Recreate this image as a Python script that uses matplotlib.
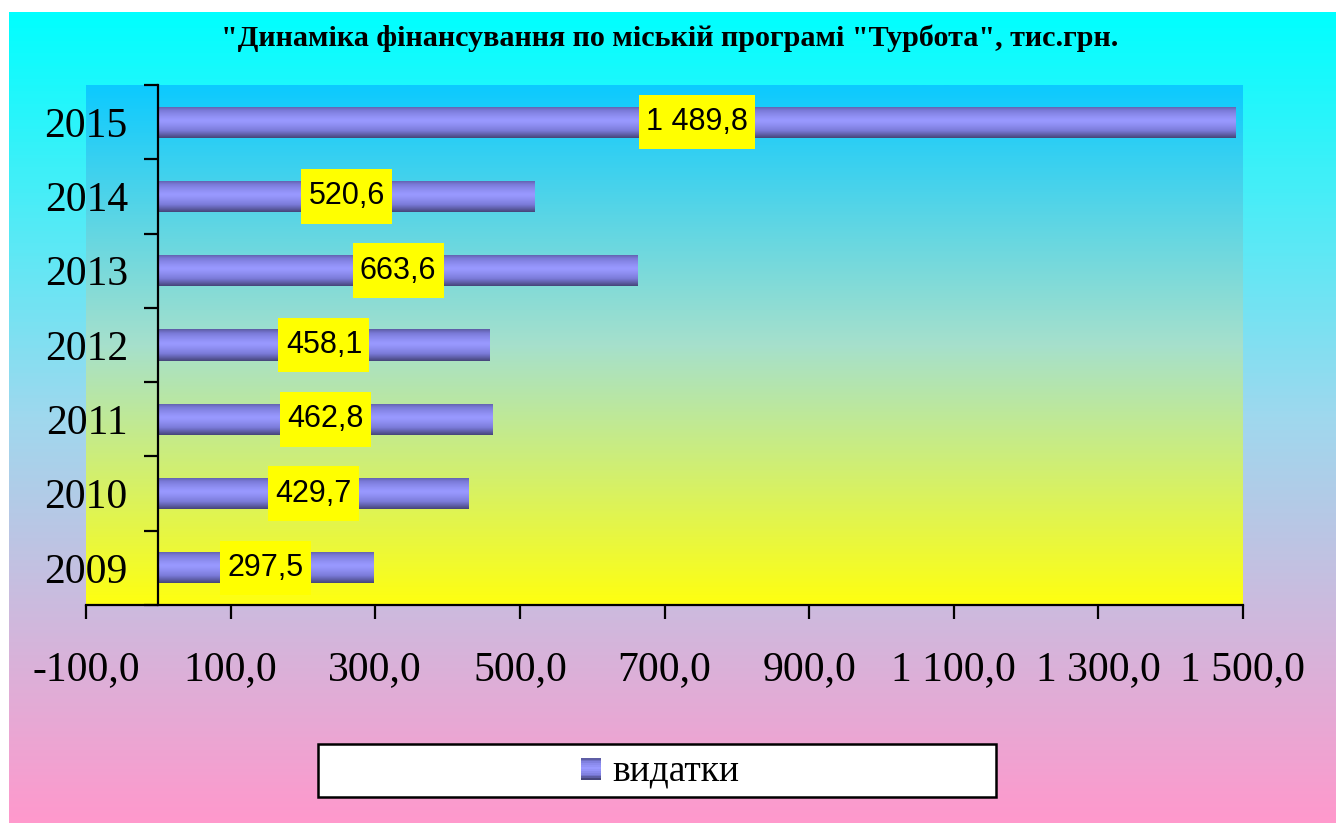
import matplotlib
matplotlib.use("Agg")
import matplotlib.pyplot as plt
import numpy as np
from matplotlib.patches import Rectangle
from matplotlib.path import Path
from matplotlib.ticker import FixedLocator, FuncFormatter
from matplotlib.colors import LinearSegmentedColormap

# data
years = ["2009", "2010", "2011", "2012", "2013", "2014", "2015"]
spending = [297.5, 429.7, 462.8, 458.1, 663.6, 520.6, 1489.8]
x_ticks = [-100, 100, 300, 500, 700, 900, 1100, 1300, 1500]
title = "\"Динаміка фінансування по міській програмі \"Турбота\", тис.грн."
legend_label = "видатки"

serif = "Liberation Serif"
sans = "Liberation Sans"


def ua_num(v):
    # 1 489,8 style: space for thousands, comma for decimals
    return f"{v:,.1f}".replace(",", " ").replace(".", ",")


def label_box(x0, y0, width, height, mutation_size):
    # yellow label box, a bit taller than a plain square pad
    px, py = 0.24 * mutation_size, 0.40 * mutation_size
    x0, y0 = x0 - px, y0 - py
    x1, y1 = x0 + width + 2 * px, y0 + height + 2 * py
    return Path([(x0, y0), (x1, y0), (x1, y1), (x0, y1), (x0, y0)], closed=True)


fig = plt.figure(figsize=(13.36, 8.23), dpi=100)
W, H = 1336, 823

# outer gradient, cyan -> pink (white strip on top and left)
bg = fig.add_axes([9 / W, 0, 1 - 9 / W, 1 - 12 / H], zorder=-10)
bg_cmap = LinearSegmentedColormap.from_list("bg", ["#00ffff", "#9fd8ee", "#ff99cc"])
bg.imshow(np.linspace(0, 1, 256).reshape(-1, 1), cmap=bg_cmap, aspect="auto",
          extent=[0, 1, 0, 1], origin="upper")
bg.set_axis_off()

ax = fig.add_axes([86 / W, 1 - 605 / H, (1243 - 86) / W, (605 - 85) / H])
ax.patch.set_visible(False)

# plot area gradient, sky blue -> yellow
pa_cmap = LinearSegmentedColormap.from_list("pa", ["#0ccaff", "#a6e0cc", "#ffff10"])
ax.imshow(np.linspace(0, 1, 256).reshape(-1, 1), cmap=pa_cmap, aspect="auto",
          extent=[0, 1, 0, 1], origin="upper", transform=ax.transAxes, zorder=0)

ypos = np.arange(len(years))
bars = ax.barh(ypos, spending, height=0.42, facecolor="none", edgecolor="none", zorder=2)

# cylinder-like shading of each bar
bar_cmap = LinearSegmentedColormap.from_list("bar", ["#46467a", "#7a7ad8", "#9999ff"])
t = np.linspace(0, 1, 64)
shade = 1 - np.clip(np.abs(t - 0.45) / 0.55, 0, 1) ** 1.3
for b in bars:
    x0, y0 = b.get_x(), b.get_y()
    im = ax.imshow(shade.reshape(-1, 1), cmap=bar_cmap, aspect="auto", vmin=0, vmax=1,
                   extent=[x0, x0 + b.get_width(), y0, y0 + b.get_height()],
                   origin="upper", zorder=2)
    im.set_clip_path(b)

for i, v in enumerate(spending):
    ax.text(v / 2, ypos[i], ua_num(v), ha="center", va="center", fontsize=22,
            family=sans, zorder=4,
            bbox=dict(boxstyle=label_box, facecolor="#ffff00", edgecolor="none"))

ax.set_xlim(-100, 1500)
ax.set_ylim(-0.5, len(years) - 0.5)

for s in ["top", "right"]:
    ax.spines[s].set_visible(False)
ax.spines["left"].set_position(("data", 0))
ax.spines["left"].set_linewidth(1.6)
ax.spines["bottom"].set_linewidth(1.6)
ax.spines["left"].set_zorder(5)
ax.spines["bottom"].set_zorder(5)

ax.xaxis.set_major_locator(FixedLocator(x_ticks))
ax.xaxis.set_major_formatter(FuncFormatter(lambda v, p: ua_num(v)))
ax.tick_params(axis="x", direction="out", length=10, width=1.6, pad=23,
               labelsize=30, labelfontfamily=serif)

ax.set_yticks(ypos)
ax.set_yticklabels(years)
ax.yaxis.set_minor_locator(FixedLocator(np.arange(-0.5, len(years), 1.0)))
ax.tick_params(axis="y", which="major", length=0, pad=22, labelsize=30, labelfontfamily=serif)
ax.tick_params(axis="y", which="minor", direction="out", length=10, width=1.6)

fig.text(670 / W, 1 - 38 / H, title, ha="center", va="center", fontsize=21.7,
         fontweight="bold", family=serif)

# legend: white framed box at the bottom
fig.patches.append(Rectangle((318 / W, 1 - 797 / H), (996 - 318) / W, (797 - 744) / H,
                             transform=fig.transFigure, facecolor="white",
                             edgecolor="black", linewidth=1.8, zorder=1))


class GradientHandler:
    def legend_artist(self, legend, orig_handle, fontsize, handlebox):
        w, h = handlebox.width, handlebox.height
        n = 12
        for k in range(n):
            c = bar_cmap(shade[int(k / (n - 1) * 63)])
            r = Rectangle((0, h * (n - 1 - k) / n), w, h / n,
                          facecolor=c, edgecolor="none", transform=handlebox.get_transform())
            handlebox.add_artist(r)
        return r


proxy = Rectangle((0, 0), 1, 1)
leg = fig.legend([proxy], [legend_label], loc="center",
                 bbox_to_anchor=(660 / W, 1 - 771 / H), frameon=False,
                 prop={"family": serif, "size": 27}, handlelength=0.55,
                 handleheight=0.55, handletextpad=0.3,
                 handler_map={Rectangle: GradientHandler()})

fig.savefig("out.png", dpi=100)
